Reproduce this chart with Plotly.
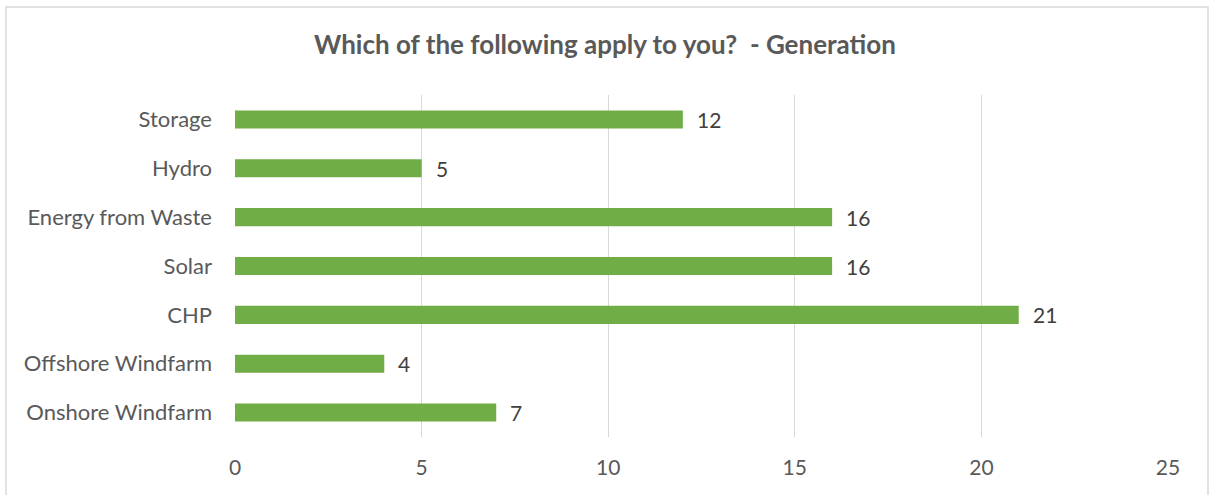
import plotly.graph_objects as go

# Survey responses: generation technologies
categories = ["Onshore Windfarm", "Offshore Windfarm", "CHP", "Solar",
              "Energy from Waste", "Hydro", "Storage"]
counts = [7, 4, 21, 16, 16, 5, 12]
x_ticks = [0, 5, 10, 15, 20, 25]

W, H = 1210, 495
L, R, T, B = 235, 42, 95, 58
pw, ph = W - L - R, H - T - B
FONT = "Lato, sans-serif"

fig = go.Figure(go.Bar(
    x=counts, y=categories, orientation="h",
    marker=dict(color="#70ad47", line=dict(width=0)),
    hoverinfo="x+y",
))

# value labels just past the end of each bar
for cat, v in zip(categories, counts):
    fig.add_annotation(x=v, y=cat, text=str(v), showarrow=False,
                       xanchor="left", yanchor="middle", xshift=12,
                       font=dict(family=FONT, size=21, color="#404040"))

fig.update_layout(
    width=W, height=H,
    margin=dict(l=L, r=R, t=T, b=B),
    paper_bgcolor="white", plot_bgcolor="white",
    bargap=0.63,
    showlegend=False,
    title=dict(text="<b>Which of the following apply to you?  - Generation</b>",
               x=0.5, xanchor="center", y=1 - 45 / H, yanchor="middle",
               font=dict(family=FONT, size=26, color="#595959")),
    xaxis=dict(range=[0, 25], tickvals=x_ticks, showgrid=True,
               gridcolor="#d9d9d9", gridwidth=1, zeroline=False,
               showline=False, ticks="", ticklabelstandoff=16,
               tickfont=dict(family=FONT, size=21, color="#595959")),
    yaxis=dict(categoryorder="array", categoryarray=categories,
               showgrid=False, zeroline=False, showline=False, ticks="",
               ticklabelstandoff=22,
               tickfont=dict(family=FONT, size=22, color="#595959")),
    shapes=[dict(type="rect", xref="paper", yref="paper",
                 x0=(6 - L) / pw, x1=(1208 - L) / pw,
                 y0=-(510 - (H - B)) / ph,
                 y1=(H - B - 7) / ph,
                 line=dict(color="#d9d9d9", width=1.5), layer="below")],
)

fig.write_html("out.html")
